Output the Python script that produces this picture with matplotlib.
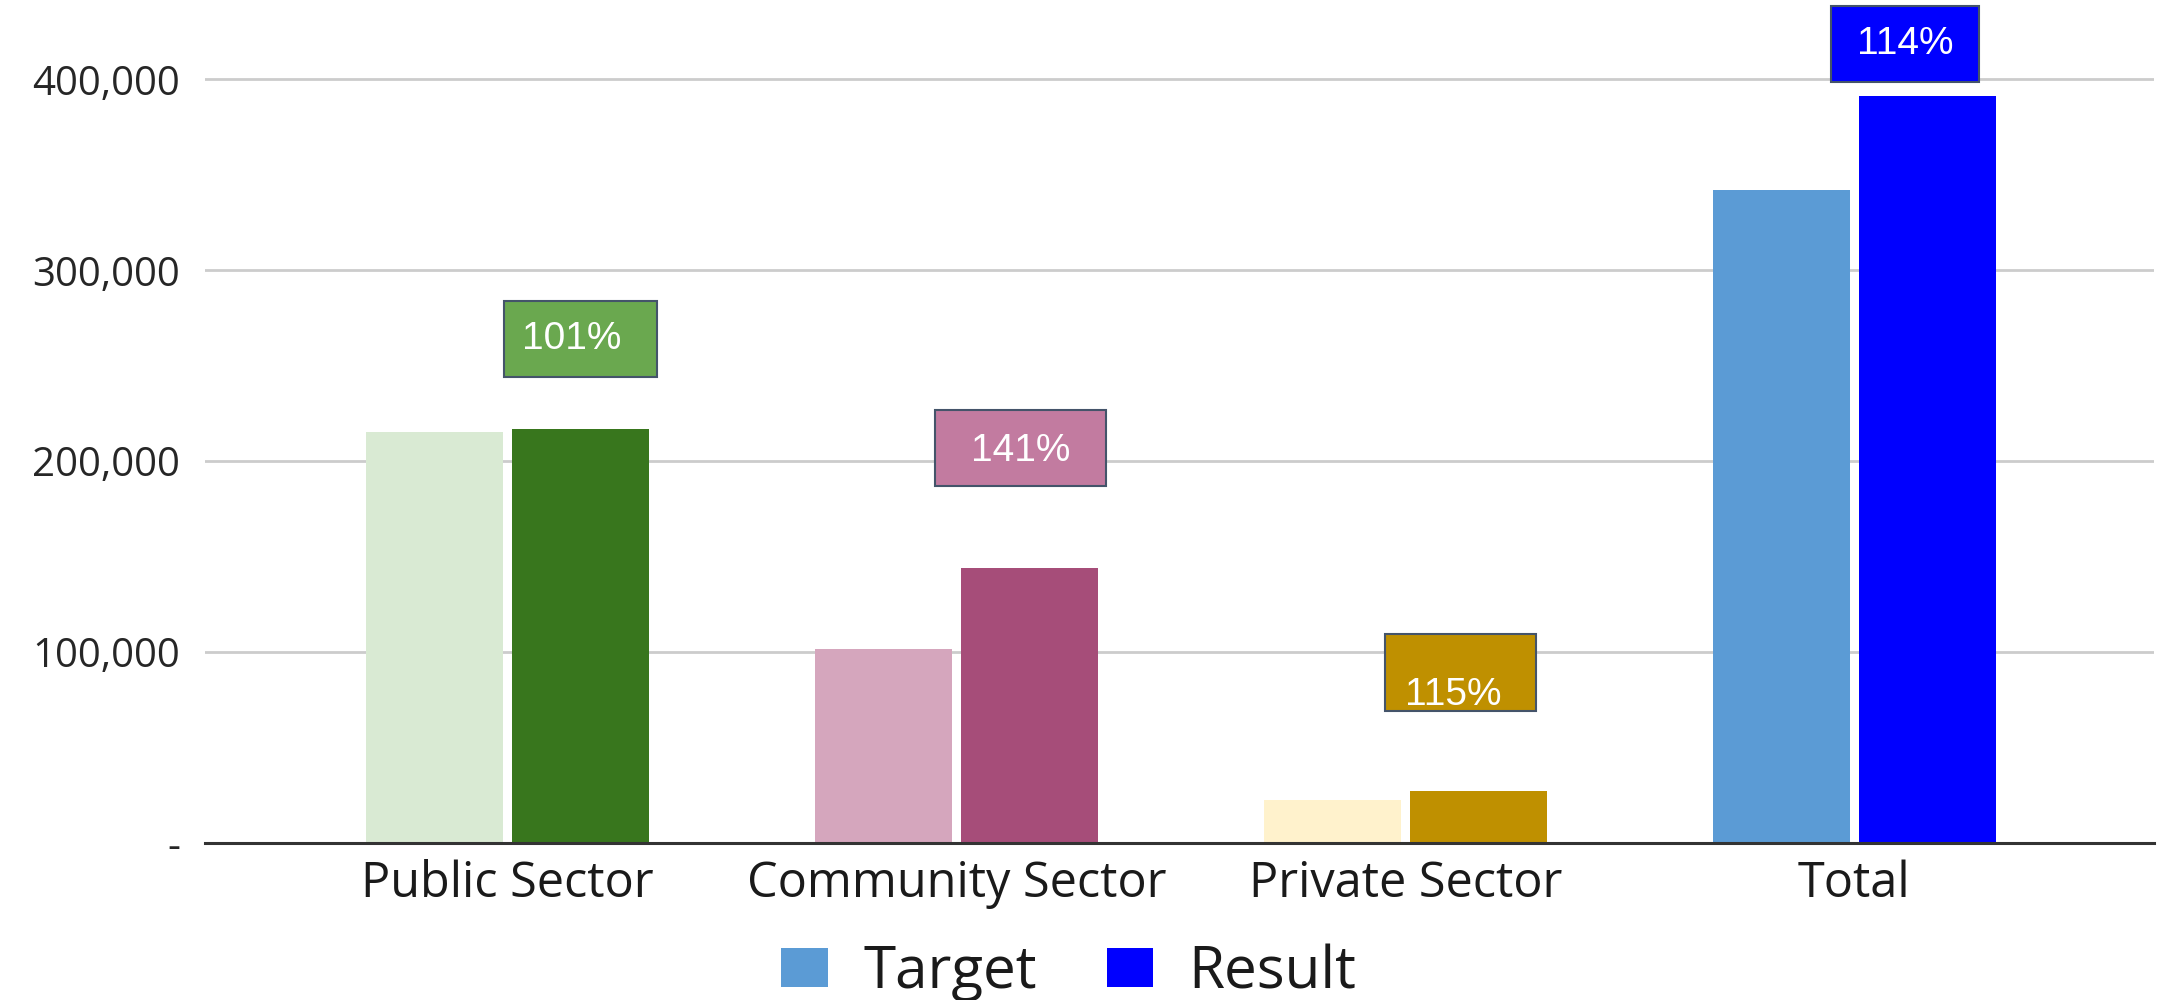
import matplotlib.pyplot as plt
from matplotlib.patches import Patch, Rectangle
import numpy as np

# values
categories = ["Public Sector", "Community Sector", "Private Sector", "Total"]
target = [215500, 101500, 22700, 342000]
result = [217000, 144000, 27400, 391500]
pct_labels = ["101%", "141%", "115%", "114%"]
y_ticks = [0, 100000, 200000, 300000, 400000]
y_tick_labels = ["-", "100,000", "200,000", "300,000", "400,000"]

target_colors = ["#D9EAD3", "#D5A6BD", "#FFF2CC", "#5B9BD5"]
result_colors = ["#38761D", "#A64D79", "#BF9000", "#0000FF"]
box_colors = ["#6AA84F", "#C27BA0", "#BF9000", "#0000FF"]
# layout of the % boxes: lift above result bar, x shift, width, text nudge
box_lift = [47000, 63000, 62000, 27000]
box_shift = [0.0, -0.02, -0.04, -0.05]
box_width = [0.34, 0.38, 0.335, 0.33]
text_nudge = [(-0.02, 0), (0, -1500), (-0.015, -12000), (0, 0)]


def make_chart():
    fig = plt.figure(figsize=(21.68, 10), dpi=100)
    ax = fig.add_axes([0.0946, 0.157, 0.899, 0.840])
    x = np.arange(len(categories))
    w = 0.305
    off = 0.1625
    ax.bar(x - off, target, width=w, color=target_colors, zorder=3)
    ax.bar(x + off, result, width=w, color=result_colors, zorder=3)

    # percentage boxes
    bh = 40000
    for i in range(len(categories)):
        cx = x[i] + off + box_shift[i]
        cy = result[i] + box_lift[i]
        bw = box_width[i]
        ax.add_patch(Rectangle((cx - bw / 2, cy - bh / 2), bw, bh,
                               facecolor=box_colors[i], edgecolor="#44546A",
                               linewidth=1.5, zorder=4, clip_on=False))
        ax.text(cx + text_nudge[i][0], cy + text_nudge[i][1], pct_labels[i],
                ha="center", va="center", color="white", fontsize=28,
                family="Liberation Sans", zorder=5)

    ax.set_xlim(-0.674, 3.668)
    ax.set_ylim(0, 440000)
    ax.set_yticks(y_ticks)
    ax.set_yticklabels(y_tick_labels, fontsize=29, family="Open Sans",
                       color="#262626")
    ax.set_xticks(x)
    ax.set_xticklabels(categories, fontsize=35, family="Open Sans",
                       color="#1a1a1a")
    ax.tick_params(axis="both", length=0)
    ax.tick_params(axis="y", pad=18)
    ax.tick_params(axis="x", pad=12)
    ax.grid(axis="y", color="#CCCCCC", linewidth=2, zorder=0)
    for s in ["top", "right", "left"]:
        ax.spines[s].set_visible(False)
    ax.spines["bottom"].set_color("#333333")
    ax.spines["bottom"].set_linewidth(2.2)
    ax.spines["bottom"].set_zorder(6)

    handles = [Patch(facecolor=target_colors[3]), Patch(facecolor=result_colors[3])]
    fig.legend(handles, ["Target", "Result"], loc="center",
               bbox_to_anchor=(0.493, 0.027), ncol=2, frameon=False,
               prop={"family": "Open Sans", "size": 42},
               handlelength=0.8, handleheight=0.65, handletextpad=0.6,
               columnspacing=1.2, labelcolor="#1a1a1a")

    fig.savefig("out.png", dpi=100)


if __name__ == '__main__':
    make_chart()
